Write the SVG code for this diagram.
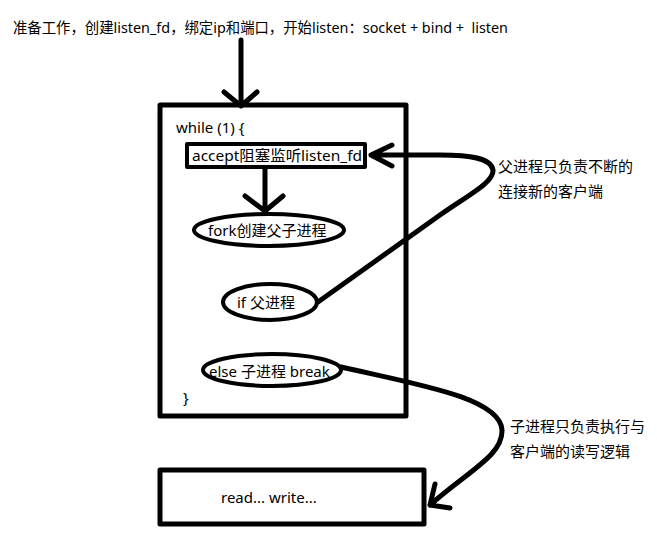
<svg xmlns="http://www.w3.org/2000/svg" width="657" height="549" viewBox="0 0 657 549">
<style>
text{font-family:"Noto Sans","Noto Sans CJK SC",sans-serif;font-size:15px;fill:#000}
.s{fill:none;stroke:#000;stroke-width:5;stroke-linecap:round;stroke-linejoin:round}
.t{fill:none;stroke:#000;stroke-width:4;stroke-linecap:round;stroke-linejoin:round}
</style>
<rect width="657" height="549" fill="#fff"/>
<text x="13" y="33" style="white-space:pre" textLength="495" lengthAdjust="spacingAndGlyphs">准备工作，创建listen_fd，绑定ip和端口，开始listen：socket + bind +  listen</text>
<g id="loop">
<rect class="s" x="160" y="105" width="246" height="311"/>
<text x="176" y="133">while (1) {</text>
<text x="183" y="403">}</text>
</g>
<g id="accept">
<rect class="t" x="187" y="144" width="178" height="23" fill="#fff"/>
<text x="192" y="161" textLength="170" lengthAdjust="spacingAndGlyphs">accept阻塞监听listen_fd</text>
</g>
<g id="fork">
<ellipse class="t" cx="269" cy="230" rx="75" ry="16"/>
<text x="208" y="236">fork创建父子进程</text>
</g>
<g id="ifparent">
<ellipse class="t" cx="270" cy="302" rx="47" ry="18"/>
<text x="237" y="308">if 父进程</text>
</g>
<g id="elsechild">
<ellipse class="t" cx="272" cy="370" rx="69" ry="16"/>
<text x="209" y="377">else 子进程 break</text>
</g>
<g id="rw">
<rect class="s" x="160" y="470" width="264" height="54"/>
<text x="221" y="503">read... write...</text>
</g>
<g id="notes">
<text x="498" y="172">父进程只负责不断的</text>
<text x="498" y="197">连接新的客户端</text>
<text x="510" y="432">子进程只负责执行与</text>
<text x="510" y="457">客户端的读写逻辑</text>
</g>
<g id="connectors">
<path class="s" d="M241 40 V104 M224 92 L241 106 L257 92"/>
<path class="s" d="M265 169 V211 M245 196 L265 211 L283 196"/>
<path class="s" d="M318 302 L440 215 C470 194 494 182 493 170 C491 158 470 155 440 155 L371 155 M392 145 L371 155 L392 166"/>
<path class="s" d="M341 367 C420 385 500 398 502 430 C503 455 470 470 430 505 M435 484 L430 505 L450 508"/>
</g>
</svg>
